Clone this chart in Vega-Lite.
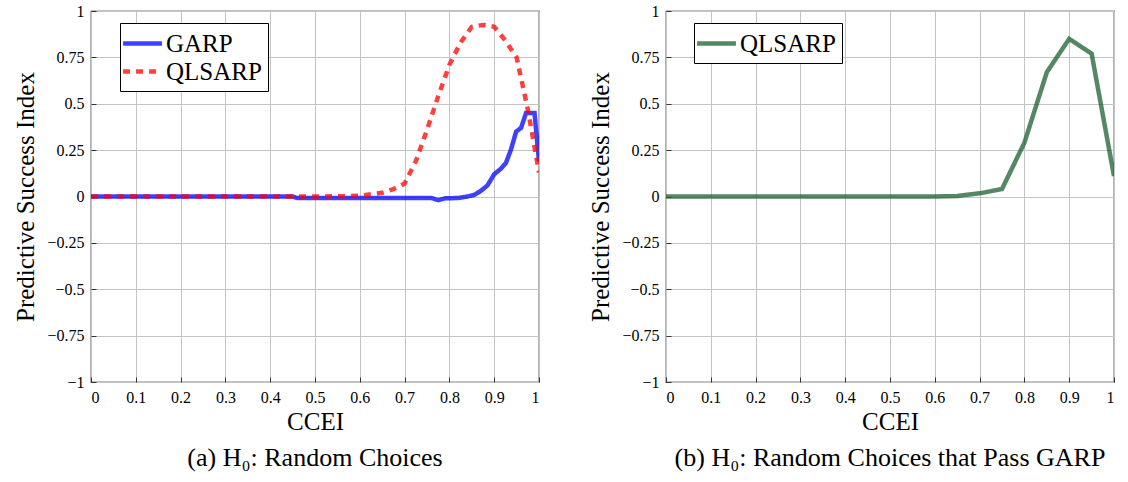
{
  "$schema": "https://vega.github.io/schema/vega-lite/v6.json",
  "background": "white",
  "padding": {"left": 13, "top": 2, "right": 4, "bottom": 3},
  "config": {
    "font": "Liberation Serif",
    "view": {"stroke": "black", "strokeWidth": 1.2},
    "axis": {
      "labelFont": "Liberation Serif", "titleFont": "Liberation Serif",
      "labelFontSize": 16, "titleFontSize": 25, "titleFontWeight": "normal",
      "labelColor": "black", "titleColor": "black",
      "gridColor": "#c4c4c4", "gridWidth": 1, "domain": false,
      "tickColor": "#333", "tickSize": -5, "labelPadding": 12
    },
    "axisX": {"titlePadding": 4},
    "axisY": {"titlePadding": 8},
    "title": {"font": "Liberation Serif", "fontSize": 26, "fontWeight": "normal", "color": "black", "orient": "bottom", "offset": 11},
    "legend": {
      "orient": "none",
      "strokeColor": "black", "fillColor": "white", "padding": 6,
      "labelFont": "Liberation Serif", "labelFontSize": 25, "labelColor": "black",
      "symbolType": "M-1.62,0H1.62", "symbolSize": 576, "symbolStrokeWidth": 4.5, "symbolOpacity": 0.75,
      "symbolOffset": 2, "labelOffset": 9, "rowPadding": 0, "title": null
    },
    "concat": {"spacing": 47}
  },
  "hconcat": [
    {
      "width": 448, "height": 371,
      "title": {"text": "(a) H₀: Random Choices"},
      "data": {"values": [
        {"x": 0, "v": 0, "s": "GARP"}, {"x": 0.05, "v": 0, "s": "GARP"}, {"x": 0.1, "v": 0, "s": "GARP"}, {"x": 0.15, "v": 0, "s": "GARP"},
        {"x": 0.2, "v": 0, "s": "GARP"}, {"x": 0.25, "v": 0, "s": "GARP"}, {"x": 0.3, "v": 0, "s": "GARP"}, {"x": 0.35, "v": 0, "s": "GARP"},
        {"x": 0.4, "v": 0, "s": "GARP"}, {"x": 0.45, "v": 0, "s": "GARP"}, {"x": 0.46, "v": -0.008, "s": "GARP"}, {"x": 0.5, "v": -0.008, "s": "GARP"},
        {"x": 0.55, "v": -0.008, "s": "GARP"}, {"x": 0.6, "v": -0.008, "s": "GARP"}, {"x": 0.65, "v": -0.008, "s": "GARP"}, {"x": 0.7, "v": -0.008, "s": "GARP"},
        {"x": 0.76, "v": -0.008, "s": "GARP"}, {"x": 0.775, "v": -0.02, "s": "GARP"}, {"x": 0.79, "v": -0.01, "s": "GARP"}, {"x": 0.82, "v": -0.008, "s": "GARP"},
        {"x": 0.84, "v": 0, "s": "GARP"}, {"x": 0.855, "v": 0.008, "s": "GARP"}, {"x": 0.87, "v": 0.03, "s": "GARP"}, {"x": 0.885, "v": 0.06, "s": "GARP"},
        {"x": 0.9, "v": 0.12, "s": "GARP"}, {"x": 0.915, "v": 0.15, "s": "GARP"}, {"x": 0.926, "v": 0.18, "s": "GARP"}, {"x": 0.937, "v": 0.25, "s": "GARP"},
        {"x": 0.949, "v": 0.35, "s": "GARP"}, {"x": 0.96, "v": 0.37, "s": "GARP"}, {"x": 0.971, "v": 0.45, "s": "GARP"}, {"x": 0.99, "v": 0.45, "s": "GARP"},
        {"x": 1.0, "v": 0.19, "s": "GARP"},
        {"x": 0, "v": 0, "s": "QLSARP"}, {"x": 0.05, "v": 0, "s": "QLSARP"}, {"x": 0.1, "v": 0, "s": "QLSARP"}, {"x": 0.15, "v": 0, "s": "QLSARP"},
        {"x": 0.2, "v": 0, "s": "QLSARP"}, {"x": 0.25, "v": 0, "s": "QLSARP"}, {"x": 0.3, "v": 0, "s": "QLSARP"}, {"x": 0.35, "v": 0, "s": "QLSARP"},
        {"x": 0.4, "v": 0, "s": "QLSARP"}, {"x": 0.45, "v": 0, "s": "QLSARP"}, {"x": 0.5, "v": 0, "s": "QLSARP"}, {"x": 0.55, "v": 0.001, "s": "QLSARP"},
        {"x": 0.6, "v": 0.004, "s": "QLSARP"}, {"x": 0.65, "v": 0.02, "s": "QLSARP"}, {"x": 0.675, "v": 0.04, "s": "QLSARP"}, {"x": 0.7, "v": 0.07, "s": "QLSARP"},
        {"x": 0.725, "v": 0.19, "s": "QLSARP"}, {"x": 0.75, "v": 0.36, "s": "QLSARP"}, {"x": 0.775, "v": 0.54, "s": "QLSARP"}, {"x": 0.8, "v": 0.71, "s": "QLSARP"},
        {"x": 0.825, "v": 0.83, "s": "QLSARP"}, {"x": 0.85, "v": 0.915, "s": "QLSARP"}, {"x": 0.875, "v": 0.925, "s": "QLSARP"}, {"x": 0.9, "v": 0.915, "s": "QLSARP"},
        {"x": 0.925, "v": 0.84, "s": "QLSARP"}, {"x": 0.95, "v": 0.75, "s": "QLSARP"}, {"x": 0.975, "v": 0.47, "s": "QLSARP"}, {"x": 1.0, "v": 0.13, "s": "QLSARP"}
      ]},
      "mark": {"type": "line", "strokeWidth": 4.5, "opacity": 0.75, "clip": true},
      "encoding": {
        "x": {"field": "x", "type": "quantitative", "scale": {"domain": [0, 1], "nice": false},
              "axis": {"title": "CCEI", "values": [0, 0.1, 0.2, 0.3, 0.4, 0.5, 0.6, 0.7, 0.8, 0.9, 1], "format": ".1~f"}},
        "y": {"field": "v", "type": "quantitative", "scale": {"domain": [-1, 1], "nice": false},
              "axis": {"title": "Predictive Success Index", "values": [-1, -0.75, -0.5, -0.25, 0, 0.25, 0.5, 0.75, 1], "format": ".2~f"}},
        "color": {"field": "s", "type": "nominal", "scale": {"domain": ["GARP", "QLSARP"], "range": ["#0000ff", "#ff0000"]},
                  "legend": {"legendX": 29, "legendY": 12, "title": null}},
        "strokeDash": {"field": "s", "type": "nominal", "scale": {"domain": ["GARP", "QLSARP"], "range": [[1, 0], [7, 6]]},
                  "legend": {"legendX": 29, "legendY": 12, "title": null}},
        "order": {"field": "x", "type": "quantitative"}
      }
    },
    {
      "width": 448, "height": 371,
      "title": {"text": "(b) H₀: Random Choices that Pass GARP"},
      "data": {"values": [
        {"x": 0, "v": 0, "s": "QLSARP"}, {"x": 0.05, "v": 0, "s": "QLSARP"}, {"x": 0.1, "v": 0, "s": "QLSARP"}, {"x": 0.15, "v": 0, "s": "QLSARP"},
        {"x": 0.2, "v": 0, "s": "QLSARP"}, {"x": 0.25, "v": 0, "s": "QLSARP"}, {"x": 0.3, "v": 0, "s": "QLSARP"}, {"x": 0.35, "v": 0, "s": "QLSARP"},
        {"x": 0.4, "v": 0, "s": "QLSARP"}, {"x": 0.45, "v": 0, "s": "QLSARP"}, {"x": 0.5, "v": 0, "s": "QLSARP"}, {"x": 0.55, "v": 0, "s": "QLSARP"},
        {"x": 0.6, "v": 0, "s": "QLSARP"}, {"x": 0.65, "v": 0.003, "s": "QLSARP"}, {"x": 0.7, "v": 0.017, "s": "QLSARP"}, {"x": 0.75, "v": 0.04, "s": "QLSARP"},
        {"x": 0.8, "v": 0.29, "s": "QLSARP"}, {"x": 0.85, "v": 0.67, "s": "QLSARP"}, {"x": 0.9, "v": 0.85, "s": "QLSARP"}, {"x": 0.95, "v": 0.77, "s": "QLSARP"},
        {"x": 1.0, "v": 0.11, "s": "QLSARP"}
      ]},
      "mark": {"type": "line", "strokeWidth": 4.5, "opacity": 0.75, "clip": true},
      "encoding": {
        "x": {"field": "x", "type": "quantitative", "scale": {"domain": [0, 1], "nice": false},
              "axis": {"title": "CCEI", "values": [0, 0.1, 0.2, 0.3, 0.4, 0.5, 0.6, 0.7, 0.8, 0.9, 1], "format": ".1~f"}},
        "y": {"field": "v", "type": "quantitative", "scale": {"domain": [-1, 1], "nice": false},
              "axis": {"title": "Predictive Success Index", "values": [-1, -0.75, -0.5, -0.25, 0, 0.25, 0.5, 0.75, 1], "format": ".2~f"}},
        "color": {"field": "s", "type": "nominal", "scale": {"domain": ["QLSARP"], "range": ["#1b5f30"]},
                  "legend": {"legendX": 28, "legendY": 12, "title": null}},
        "order": {"field": "x", "type": "quantitative"}
      }
    }
  ],
  "resolve": {"scale": {"color": "independent", "strokeDash": "independent"}, "legend": {"color": "independent", "strokeDash": "independent"}}
}
